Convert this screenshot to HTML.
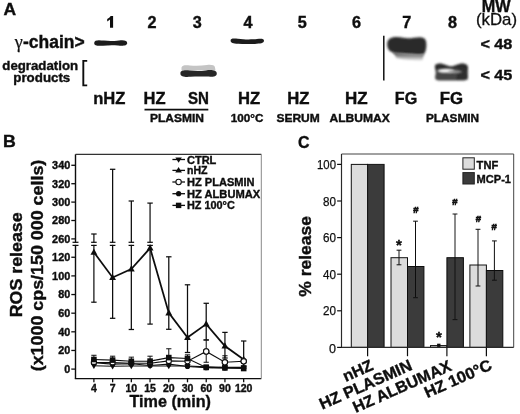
<!DOCTYPE html>
<html><head><meta charset="utf-8"><title>Figure</title>
<style>
html,body{margin:0;padding:0;background:#fff;}
body{width:520px;height:414px;overflow:hidden;font-family:"Liberation Sans",sans-serif;}
svg{display:block;}
</style></head><body>
<svg width="520" height="414" viewBox="0 0 520 414">
<defs>
<filter id="b1" x="-20%" y="-50%" width="140%" height="200%"><feGaussianBlur stdDeviation="0.7"/></filter>
<filter id="b2" x="-20%" y="-50%" width="140%" height="200%"><feGaussianBlur stdDeviation="1.1"/></filter>
<linearGradient id="smear" x1="0" y1="0" x2="0" y2="1"><stop offset="0" stop-color="#3a3a3a"/><stop offset="0.45" stop-color="#8a8a8a"/><stop offset="1" stop-color="#e6e6e6"/></linearGradient>
<filter id="soft"><feGaussianBlur stdDeviation="0.3"/></filter>
</defs>
<rect width="520" height="414" fill="#fff"/>
<g filter="url(#soft)">
<g id="A">
<text x="3.5" y="15.1" font-family="Liberation Sans, sans-serif" font-size="17.0" font-weight="bold" text-anchor="start" fill="#111" stroke="#111" stroke-width="0.4" textLength="12.6" lengthAdjust="spacingAndGlyphs" >A</text>
<text x="14.8" y="48.1" font-family="Liberation Serif, serif" font-size="18" fill="#111" stroke="#111" stroke-width="0.25">γ</text>
<text x="23.0" y="48.1" font-family="Liberation Sans, sans-serif" font-size="17.5" font-weight="bold" text-anchor="start" fill="#111" stroke="#111" stroke-width="0.4" textLength="61.6" lengthAdjust="spacingAndGlyphs" >-chain&gt;</text>
<text x="2.3" y="70.4" font-family="Liberation Sans, sans-serif" font-size="13" font-weight="bold" text-anchor="start" fill="#111" stroke="#111" stroke-width="0.4" textLength="75.8" lengthAdjust="spacingAndGlyphs" >degradation</text>
<text x="13.3" y="81.9" font-family="Liberation Sans, sans-serif" font-size="13" font-weight="bold" text-anchor="start" fill="#111" stroke="#111" stroke-width="0.4" textLength="57" lengthAdjust="spacingAndGlyphs" >products</text>
<path d="M87.2 60.9 H83.3 V85.4 H87.2" fill="none" stroke="#111" stroke-width="1.9"/>
<path d="M110.0 27.7 V19.6 Q108.8 20.8 107.2 21.4 V19.0 Q109.5 18.0 110.7 16.1 H113.1 V27.7 Z" fill="#111"/>
<text x="152" y="27.7" font-family="Liberation Sans, sans-serif" font-size="16.2" font-weight="bold" text-anchor="middle" fill="#111" stroke="#111" stroke-width="0.4" >2</text>
<text x="197.3" y="27.7" font-family="Liberation Sans, sans-serif" font-size="16.2" font-weight="bold" text-anchor="middle" fill="#111" stroke="#111" stroke-width="0.4" >3</text>
<text x="248" y="27.7" font-family="Liberation Sans, sans-serif" font-size="16.2" font-weight="bold" text-anchor="middle" fill="#111" stroke="#111" stroke-width="0.4" >4</text>
<text x="302.2" y="27.7" font-family="Liberation Sans, sans-serif" font-size="16.2" font-weight="bold" text-anchor="middle" fill="#111" stroke="#111" stroke-width="0.4" >5</text>
<text x="356.6" y="27.7" font-family="Liberation Sans, sans-serif" font-size="16.2" font-weight="bold" text-anchor="middle" fill="#111" stroke="#111" stroke-width="0.4" >6</text>
<text x="406.8" y="27.7" font-family="Liberation Sans, sans-serif" font-size="16.2" font-weight="bold" text-anchor="middle" fill="#111" stroke="#111" stroke-width="0.4" >7</text>
<text x="452.6" y="27.7" font-family="Liberation Sans, sans-serif" font-size="16.2" font-weight="bold" text-anchor="middle" fill="#111" stroke="#111" stroke-width="0.4" >8</text>
<text x="481.7" y="11.6" font-family="Liberation Sans, sans-serif" font-size="17" font-weight="bold" text-anchor="start" fill="#111" stroke="#111" stroke-width="0.4" textLength="28.8" lengthAdjust="spacingAndGlyphs" >MW</text>
<text x="476" y="24.9" font-family="Liberation Sans, sans-serif" font-size="16.3" fill="#111" stroke="#111" stroke-width="0.3" textLength="41" lengthAdjust="spacingAndGlyphs">(kDa)</text>
<text x="480.4" y="48.6" font-family="Liberation Sans, sans-serif" font-size="15.5" font-weight="bold" text-anchor="start" fill="#111" stroke="#111" stroke-width="0.4" textLength="32" lengthAdjust="spacingAndGlyphs" >&lt; 48</text>
<text x="480.4" y="79.7" font-family="Liberation Sans, sans-serif" font-size="15.5" font-weight="bold" text-anchor="start" fill="#111" stroke="#111" stroke-width="0.4" textLength="32" lengthAdjust="spacingAndGlyphs" >&lt; 45</text>
<line x1="383.8" y1="35.8" x2="383.8" y2="80.5" stroke="#111" stroke-width="1.5" />
<text x="93.2" y="103.6" font-family="Liberation Sans, sans-serif" font-size="16.5" font-weight="bold" text-anchor="start" fill="#111" stroke="#111" stroke-width="0.4" textLength="32.2" lengthAdjust="spacingAndGlyphs" >nHZ</text>
<text x="143.5" y="103.6" font-family="Liberation Sans, sans-serif" font-size="16.5" font-weight="bold" text-anchor="start" fill="#111" stroke="#111" stroke-width="0.4" textLength="22" lengthAdjust="spacingAndGlyphs" >HZ</text>
<text x="188" y="103.6" font-family="Liberation Sans, sans-serif" font-size="16.5" font-weight="bold" text-anchor="start" fill="#111" stroke="#111" stroke-width="0.4" textLength="21" lengthAdjust="spacingAndGlyphs" >SN</text>
<line x1="144.5" y1="109.6" x2="208.3" y2="109.6" stroke="#111" stroke-width="1.6" />
<text x="150" y="121.7" font-family="Liberation Sans, sans-serif" font-size="11" font-weight="bold" text-anchor="start" fill="#111" stroke="#111" stroke-width="0.4" textLength="54" lengthAdjust="spacingAndGlyphs" >PLASMIN</text>
<text x="237.9" y="103.6" font-family="Liberation Sans, sans-serif" font-size="16.5" font-weight="bold" text-anchor="start" fill="#111" stroke="#111" stroke-width="0.4" textLength="22.2" lengthAdjust="spacingAndGlyphs" >HZ</text>
<text x="230.8" y="121.7" font-family="Liberation Sans, sans-serif" font-size="11" font-weight="bold" text-anchor="start" fill="#111" stroke="#111" stroke-width="0.4" textLength="32.6" lengthAdjust="spacingAndGlyphs" >100°C</text>
<text x="287.3" y="103.6" font-family="Liberation Sans, sans-serif" font-size="16.5" font-weight="bold" text-anchor="start" fill="#111" stroke="#111" stroke-width="0.4" textLength="22.2" lengthAdjust="spacingAndGlyphs" >HZ</text>
<text x="276.4" y="121.7" font-family="Liberation Sans, sans-serif" font-size="11" font-weight="bold" text-anchor="start" fill="#111" stroke="#111" stroke-width="0.4" textLength="43.4" lengthAdjust="spacingAndGlyphs" >SERUM</text>
<text x="345.1" y="103.6" font-family="Liberation Sans, sans-serif" font-size="16.5" font-weight="bold" text-anchor="start" fill="#111" stroke="#111" stroke-width="0.4" textLength="22.6" lengthAdjust="spacingAndGlyphs" >HZ</text>
<text x="329.5" y="121.8" font-family="Liberation Sans, sans-serif" font-size="11" font-weight="bold" text-anchor="start" fill="#111" stroke="#111" stroke-width="0.4" textLength="60.2" lengthAdjust="spacingAndGlyphs" >ALBUMAX</text>
<text x="394.8" y="103.6" font-family="Liberation Sans, sans-serif" font-size="16.5" font-weight="bold" text-anchor="start" fill="#111" stroke="#111" stroke-width="0.4" textLength="22.4" lengthAdjust="spacingAndGlyphs" >FG</text>
<text x="439.7" y="103.6" font-family="Liberation Sans, sans-serif" font-size="16.5" font-weight="bold" text-anchor="start" fill="#111" stroke="#111" stroke-width="0.4" textLength="23.3" lengthAdjust="spacingAndGlyphs" >FG</text>
<text x="426" y="121.7" font-family="Liberation Sans, sans-serif" font-size="11" font-weight="bold" text-anchor="start" fill="#111" stroke="#111" stroke-width="0.4" textLength="53" lengthAdjust="spacingAndGlyphs" >PLASMIN</text>
<g filter="url(#b1)">
<path d="M94.2 42.9 C94.2 39.6 99 39.9 104 40.6 C110 41.4 114 41 119 40.4 C124 39.8 127.2 40.4 127.2 43 C127.2 45.8 123 46 118 45.5 C112 45 108 45.3 103 45.7 C98 46 94.2 46 94.2 42.9 Z" fill="#1e1e1e"/>
<path d="M230.6 40.4 C230.6 38 234 38.2 238 38.8 C244 39.7 252 39.6 257 39.1 C261 38.7 264 38.6 264 40.8 C264 43.3 260 43.6 255 43.9 C249 44.2 243 44.2 238 43.8 C233 43.4 230.6 43 230.6 40.4 Z" fill="#1e1e1e"/>
<path d="M181.5 67.5 C182 64.8 186 65 190 65.4 C196 66 202 65.6 207 65 C211 64.6 214.6 65 215 67.4 L215.5 70.5 L181.5 70.5 Z" fill="#c4c4c4"/>
<path d="M180.4 73.4 C180.4 70 185 70 190 70.6 C196 71.3 201 71.2 206 70.4 C211 69.7 216.8 70 216.8 73.4 C216.8 76.8 212 77 207 76.6 C201 76.2 196 76.4 190 76.8 C185 77.1 180.4 76.8 180.4 73.4 Z" fill="#262626"/>
</g>
<g filter="url(#b2)">
<path d="M387.2 44.5 C387 39 391 36.9 397 37.1 C402 37.3 405 38.3 408 38.3 C412 38.3 415 37.2 420 37.2 C425 37.2 426.6 40 426.4 45 C426.2 50 425.4 53 423.4 54.6 C419 55.4 414 54.6 409 54.2 C404 53.8 399 54 395 53.2 C390 52 387.4 50 387.2 44.5 Z" fill="#2a2a2a"/>
</g>
<path d="M393 52 C402 53.6 412 54 424 54 L422.4 60.4 C416 60.8 404 60 396.5 58 Z" fill="url(#smear)" filter="url(#b2)"/>
<g filter="url(#b2)">
<path d="M434.8 67 C434.6 64 438 63.2 441 63.6 C445 64.2 448 66.6 451 66.6 C454 66.6 457 64 461 63.6 C465 63.4 468 64.6 468 68 C468 70.5 466.8 71.6 467.4 74 C468.2 77 468 80.4 464 80.4 L439 80.6 C434.8 80.6 434.6 77.6 435.6 74.6 C436.4 72 435 70 434.8 67 Z" fill="#454545"/>
<path d="M435 66.5 C435 64 438 63.4 441 63.8 C445 64.4 448 66.8 451 66.8 C454 66.8 457 64.2 461 63.8 C465 63.6 467.8 64.6 467.8 67.4 L467.6 69 C460 67.6 444 68 435.4 69.6 Z" fill="#2a2a2a"/>
<path d="M458 69 L467.8 68 C467.4 72 468.2 76 467.6 79.6 L456 80 Z" fill="#2e2e2e"/>
</g>
<ellipse cx="446" cy="70.8" rx="8.5" ry="2.0" fill="#f4f4f4" filter="url(#b2)"/>
<ellipse cx="455" cy="71.8" rx="7" ry="1.4" fill="#999" filter="url(#b2)"/>
</g>
<g id="B">
<text x="3" y="147.3" font-family="Liberation Sans, sans-serif" font-size="16.3" font-weight="bold" text-anchor="start" fill="#111" stroke="#111" stroke-width="0.4" textLength="12.8" lengthAdjust="spacingAndGlyphs" >B</text>
<line x1="75.5" y1="154.3" x2="75.5" y2="378.6" stroke="#111" stroke-width="1.4" />
<line x1="74.8" y1="378.6" x2="261.3" y2="378.6" stroke="#111" stroke-width="1.4" />
<line x1="75.5" y1="154.3" x2="261.3" y2="154.3" stroke="#333" stroke-width="1.2" />
<line x1="261.3" y1="154.3" x2="261.3" y2="378.6" stroke="#7a7a7a" stroke-width="0.9" />
<line x1="71.3" y1="165.3" x2="75.5" y2="165.3" stroke="#111" stroke-width="1.3" />
<text x="70.3" y="169.1" font-family="Liberation Sans, sans-serif" font-size="10.8" font-weight="bold" text-anchor="end" fill="#111" stroke="#111" stroke-width="0.4" textLength="18.2" lengthAdjust="spacingAndGlyphs" >340</text>
<line x1="71.3" y1="183.7" x2="75.5" y2="183.7" stroke="#111" stroke-width="1.3" />
<text x="70.3" y="187.49999999999997" font-family="Liberation Sans, sans-serif" font-size="10.8" font-weight="bold" text-anchor="end" fill="#111" stroke="#111" stroke-width="0.4" textLength="18.2" lengthAdjust="spacingAndGlyphs" >320</text>
<line x1="71.3" y1="202.1" x2="75.5" y2="202.1" stroke="#111" stroke-width="1.3" />
<text x="70.3" y="205.89999999999998" font-family="Liberation Sans, sans-serif" font-size="10.8" font-weight="bold" text-anchor="end" fill="#111" stroke="#111" stroke-width="0.4" textLength="18.2" lengthAdjust="spacingAndGlyphs" >300</text>
<line x1="71.3" y1="220.5" x2="75.5" y2="220.5" stroke="#111" stroke-width="1.3" />
<text x="70.3" y="224.29999999999998" font-family="Liberation Sans, sans-serif" font-size="10.8" font-weight="bold" text-anchor="end" fill="#111" stroke="#111" stroke-width="0.4" textLength="18.2" lengthAdjust="spacingAndGlyphs" >280</text>
<line x1="71.3" y1="238.9" x2="75.5" y2="238.9" stroke="#111" stroke-width="1.3" />
<text x="70.3" y="242.7" font-family="Liberation Sans, sans-serif" font-size="10.8" font-weight="bold" text-anchor="end" fill="#111" stroke="#111" stroke-width="0.4" textLength="18.2" lengthAdjust="spacingAndGlyphs" >260</text>
<line x1="71.3" y1="257.26000000000005" x2="75.5" y2="257.26000000000005" stroke="#111" stroke-width="1.3" />
<text x="70.3" y="261.06000000000006" font-family="Liberation Sans, sans-serif" font-size="10.8" font-weight="bold" text-anchor="end" fill="#111" stroke="#111" stroke-width="0.4" textLength="18.2" lengthAdjust="spacingAndGlyphs" >120</text>
<line x1="71.3" y1="275.90000000000003" x2="75.5" y2="275.90000000000003" stroke="#111" stroke-width="1.3" />
<text x="70.3" y="279.70000000000005" font-family="Liberation Sans, sans-serif" font-size="10.8" font-weight="bold" text-anchor="end" fill="#111" stroke="#111" stroke-width="0.4" textLength="18.2" lengthAdjust="spacingAndGlyphs" >100</text>
<line x1="71.3" y1="294.54" x2="75.5" y2="294.54" stroke="#111" stroke-width="1.3" />
<text x="70.3" y="298.34000000000003" font-family="Liberation Sans, sans-serif" font-size="10.8" font-weight="bold" text-anchor="end" fill="#111" stroke="#111" stroke-width="0.4" textLength="12" lengthAdjust="spacingAndGlyphs" >80</text>
<line x1="71.3" y1="313.18" x2="75.5" y2="313.18" stroke="#111" stroke-width="1.3" />
<text x="70.3" y="316.98" font-family="Liberation Sans, sans-serif" font-size="10.8" font-weight="bold" text-anchor="end" fill="#111" stroke="#111" stroke-width="0.4" textLength="12" lengthAdjust="spacingAndGlyphs" >60</text>
<line x1="71.3" y1="331.82" x2="75.5" y2="331.82" stroke="#111" stroke-width="1.3" />
<text x="70.3" y="335.62" font-family="Liberation Sans, sans-serif" font-size="10.8" font-weight="bold" text-anchor="end" fill="#111" stroke="#111" stroke-width="0.4" textLength="12" lengthAdjust="spacingAndGlyphs" >40</text>
<line x1="71.3" y1="350.46000000000004" x2="75.5" y2="350.46000000000004" stroke="#111" stroke-width="1.3" />
<text x="70.3" y="354.26000000000005" font-family="Liberation Sans, sans-serif" font-size="10.8" font-weight="bold" text-anchor="end" fill="#111" stroke="#111" stroke-width="0.4" textLength="12" lengthAdjust="spacingAndGlyphs" >20</text>
<line x1="71.3" y1="369.1" x2="75.5" y2="369.1" stroke="#111" stroke-width="1.3" />
<text x="70.3" y="372.90000000000003" font-family="Liberation Sans, sans-serif" font-size="10.8" font-weight="bold" text-anchor="end" fill="#111" stroke="#111" stroke-width="0.4" textLength="6" lengthAdjust="spacingAndGlyphs" >0</text>
<rect x="74.0" y="242.9" width="3" height="1.9" fill="#fff"/>
<line x1="72.5" y1="242.3" x2="78.5" y2="242.3" stroke="#111" stroke-width="1.2" />
<line x1="72.5" y1="245.4" x2="78.5" y2="245.4" stroke="#111" stroke-width="1.2" />
<line x1="93.9" y1="378.6" x2="93.9" y2="382.3" stroke="#111" stroke-width="1.3" />
<text x="93.9" y="392.3" font-family="Liberation Sans, sans-serif" font-size="10.5" font-weight="bold" text-anchor="middle" fill="#111" stroke="#111" stroke-width="0.4" >4</text>
<line x1="112.62" y1="378.6" x2="112.62" y2="382.3" stroke="#111" stroke-width="1.3" />
<text x="112.62" y="392.3" font-family="Liberation Sans, sans-serif" font-size="10.5" font-weight="bold" text-anchor="middle" fill="#111" stroke="#111" stroke-width="0.4" >7</text>
<line x1="131.34" y1="378.6" x2="131.34" y2="382.3" stroke="#111" stroke-width="1.3" />
<text x="131.34" y="392.3" font-family="Liberation Sans, sans-serif" font-size="10.5" font-weight="bold" text-anchor="middle" fill="#111" stroke="#111" stroke-width="0.4" >10</text>
<line x1="150.06" y1="378.6" x2="150.06" y2="382.3" stroke="#111" stroke-width="1.3" />
<text x="150.06" y="392.3" font-family="Liberation Sans, sans-serif" font-size="10.5" font-weight="bold" text-anchor="middle" fill="#111" stroke="#111" stroke-width="0.4" >15</text>
<line x1="168.78" y1="378.6" x2="168.78" y2="382.3" stroke="#111" stroke-width="1.3" />
<text x="168.78" y="392.3" font-family="Liberation Sans, sans-serif" font-size="10.5" font-weight="bold" text-anchor="middle" fill="#111" stroke="#111" stroke-width="0.4" >20</text>
<line x1="187.5" y1="378.6" x2="187.5" y2="382.3" stroke="#111" stroke-width="1.3" />
<text x="187.5" y="392.3" font-family="Liberation Sans, sans-serif" font-size="10.5" font-weight="bold" text-anchor="middle" fill="#111" stroke="#111" stroke-width="0.4" >30</text>
<line x1="206.22" y1="378.6" x2="206.22" y2="382.3" stroke="#111" stroke-width="1.3" />
<text x="206.22" y="392.3" font-family="Liberation Sans, sans-serif" font-size="10.5" font-weight="bold" text-anchor="middle" fill="#111" stroke="#111" stroke-width="0.4" >60</text>
<line x1="224.94" y1="378.6" x2="224.94" y2="382.3" stroke="#111" stroke-width="1.3" />
<text x="224.94" y="392.3" font-family="Liberation Sans, sans-serif" font-size="10.5" font-weight="bold" text-anchor="middle" fill="#111" stroke="#111" stroke-width="0.4" >90</text>
<line x1="243.66" y1="378.6" x2="243.66" y2="382.3" stroke="#111" stroke-width="1.3" />
<text x="243.66" y="392.3" font-family="Liberation Sans, sans-serif" font-size="10.5" font-weight="bold" text-anchor="middle" fill="#111" stroke="#111" stroke-width="0.4" >120</text>
<text x="170.2" y="407.2" font-family="Liberation Sans, sans-serif" font-size="17.3" font-weight="bold" text-anchor="middle" fill="#111" stroke="#111" stroke-width="0.4" textLength="81.5" lengthAdjust="spacingAndGlyphs" >Time (min)</text>
<text transform="translate(21.8,264.8) rotate(-90)" font-family="Liberation Sans, sans-serif" font-size="17" font-weight="bold" text-anchor="middle" fill="#111" stroke="#111" stroke-width="0.4" textLength="105" lengthAdjust="spacingAndGlyphs">ROS release</text>
<text transform="translate(42.7,265.5) rotate(-90)" font-family="Liberation Sans, sans-serif" font-size="17" font-weight="bold" text-anchor="middle" fill="#111" stroke="#111" stroke-width="0.4" textLength="211.6" lengthAdjust="spacingAndGlyphs">(x1000 cps/150 000 cells)</text>
<line x1="93.9" y1="234" x2="93.9" y2="302.2" stroke="#111" stroke-width="1.25" />
<line x1="91.2" y1="234" x2="96.60000000000001" y2="234" stroke="#111" stroke-width="1.25" />
<line x1="91.2" y1="302.2" x2="96.60000000000001" y2="302.2" stroke="#111" stroke-width="1.25" />
<line x1="112.62" y1="169.3" x2="112.62" y2="318.3" stroke="#111" stroke-width="1.25" />
<line x1="109.92" y1="169.3" x2="115.32000000000001" y2="169.3" stroke="#111" stroke-width="1.25" />
<line x1="109.92" y1="318.3" x2="115.32000000000001" y2="318.3" stroke="#111" stroke-width="1.25" />
<line x1="131.34" y1="201" x2="131.34" y2="329.5" stroke="#111" stroke-width="1.25" />
<line x1="128.64000000000001" y1="201" x2="134.04" y2="201" stroke="#111" stroke-width="1.25" />
<line x1="128.64000000000001" y1="329.5" x2="134.04" y2="329.5" stroke="#111" stroke-width="1.25" />
<line x1="150.06" y1="203.1" x2="150.06" y2="324.1" stroke="#111" stroke-width="1.25" />
<line x1="147.36" y1="203.1" x2="152.76" y2="203.1" stroke="#111" stroke-width="1.25" />
<line x1="147.36" y1="324.1" x2="152.76" y2="324.1" stroke="#111" stroke-width="1.25" />
<line x1="168.78" y1="256.8" x2="168.78" y2="329.3" stroke="#111" stroke-width="1.25" />
<line x1="166.08" y1="256.8" x2="171.48" y2="256.8" stroke="#111" stroke-width="1.25" />
<line x1="166.08" y1="329.3" x2="171.48" y2="329.3" stroke="#111" stroke-width="1.25" />
<line x1="187.5" y1="284.8" x2="187.5" y2="352.5" stroke="#111" stroke-width="1.25" />
<line x1="184.8" y1="284.8" x2="190.2" y2="284.8" stroke="#111" stroke-width="1.25" />
<line x1="184.8" y1="352.5" x2="190.2" y2="352.5" stroke="#111" stroke-width="1.25" />
<line x1="206.22" y1="303.3" x2="206.22" y2="340" stroke="#111" stroke-width="1.25" />
<line x1="203.52" y1="303.3" x2="208.92" y2="303.3" stroke="#111" stroke-width="1.25" />
<line x1="203.52" y1="340" x2="208.92" y2="340" stroke="#111" stroke-width="1.25" />
<line x1="224.94" y1="332.4" x2="224.94" y2="358" stroke="#111" stroke-width="1.25" />
<line x1="222.24" y1="332.4" x2="227.64" y2="332.4" stroke="#111" stroke-width="1.25" />
<line x1="222.24" y1="358" x2="227.64" y2="358" stroke="#111" stroke-width="1.25" />
<line x1="243.66" y1="341" x2="243.66" y2="366" stroke="#111" stroke-width="1.25" />
<line x1="240.96" y1="341" x2="246.35999999999999" y2="341" stroke="#111" stroke-width="1.25" />
<line x1="240.96" y1="366" x2="246.35999999999999" y2="366" stroke="#111" stroke-width="1.25" />
<rect x="92.4" y="242.9" width="3" height="1.9" fill="#fff"/>
<line x1="91.10000000000001" y1="242.3" x2="96.7" y2="242.3" stroke="#111" stroke-width="1.2" />
<line x1="91.10000000000001" y1="245.4" x2="96.7" y2="245.4" stroke="#111" stroke-width="1.2" />
<rect x="111.12" y="242.9" width="3" height="1.9" fill="#fff"/>
<line x1="109.82000000000001" y1="242.3" x2="115.42" y2="242.3" stroke="#111" stroke-width="1.2" />
<line x1="109.82000000000001" y1="245.4" x2="115.42" y2="245.4" stroke="#111" stroke-width="1.2" />
<rect x="129.84" y="242.9" width="3" height="1.9" fill="#fff"/>
<line x1="128.54" y1="242.3" x2="134.14000000000001" y2="242.3" stroke="#111" stroke-width="1.2" />
<line x1="128.54" y1="245.4" x2="134.14000000000001" y2="245.4" stroke="#111" stroke-width="1.2" />
<rect x="148.56" y="242.9" width="3" height="1.9" fill="#fff"/>
<line x1="147.26" y1="242.3" x2="152.86" y2="242.3" stroke="#111" stroke-width="1.2" />
<line x1="147.26" y1="245.4" x2="152.86" y2="245.4" stroke="#111" stroke-width="1.2" />
<polyline points="93.9,252.3 112.6,277.5 131.3,269.1 150.1,248.1 168.8,312.9 187.5,337.6 206.2,324.1 224.9,346.0 243.7,359.5" fill="none" stroke="#111" stroke-width="1.8"/>
<path d="M90.5 254.8 L97.3 254.8 L93.9 248.5 Z" fill="#111"/>
<path d="M109.2 280.0 L116.0 280.0 L112.6 273.7 Z" fill="#111"/>
<path d="M127.9 271.6 L134.7 271.6 L131.3 265.3 Z" fill="#111"/>
<path d="M146.7 250.6 L153.5 250.6 L150.1 244.3 Z" fill="#111"/>
<path d="M165.4 315.4 L172.2 315.4 L168.8 309.1 Z" fill="#111"/>
<path d="M184.1 340.1 L190.9 340.1 L187.5 333.8 Z" fill="#111"/>
<path d="M202.8 326.6 L209.6 326.6 L206.2 320.3 Z" fill="#111"/>
<path d="M221.5 348.5 L228.3 348.5 L224.9 342.2 Z" fill="#111"/>
<path d="M240.3 362.0 L247.1 362.0 L243.7 355.7 Z" fill="#111"/>
<line x1="93.9" y1="355.286" x2="93.9" y2="359.48" stroke="#111" stroke-width="1" />
<line x1="91.30000000000001" y1="355.286" x2="96.5" y2="355.286" stroke="#111" stroke-width="1" />
<line x1="91.30000000000001" y1="359.48" x2="96.5" y2="359.48" stroke="#111" stroke-width="1" />
<line x1="112.62" y1="356.218" x2="112.62" y2="360.1324" stroke="#111" stroke-width="1" />
<line x1="110.02000000000001" y1="356.218" x2="115.22" y2="356.218" stroke="#111" stroke-width="1" />
<line x1="110.02000000000001" y1="360.1324" x2="115.22" y2="360.1324" stroke="#111" stroke-width="1" />
<line x1="131.34" y1="357.15000000000003" x2="131.34" y2="361.344" stroke="#111" stroke-width="1" />
<line x1="128.74" y1="357.15000000000003" x2="133.94" y2="357.15000000000003" stroke="#111" stroke-width="1" />
<line x1="128.74" y1="361.344" x2="133.94" y2="361.344" stroke="#111" stroke-width="1" />
<line x1="150.06" y1="356.218" x2="150.06" y2="361.06440000000003" stroke="#111" stroke-width="1" />
<line x1="147.46" y1="356.218" x2="152.66" y2="356.218" stroke="#111" stroke-width="1" />
<line x1="147.46" y1="361.06440000000003" x2="152.66" y2="361.06440000000003" stroke="#111" stroke-width="1" />
<line x1="168.78" y1="348.762" x2="168.78" y2="357.616" stroke="#111" stroke-width="1" />
<line x1="166.18" y1="348.762" x2="171.38" y2="348.762" stroke="#111" stroke-width="1" />
<line x1="166.18" y1="357.616" x2="171.38" y2="357.616" stroke="#111" stroke-width="1" />
<line x1="187.5" y1="354.82" x2="187.5" y2="358.548" stroke="#111" stroke-width="1" />
<line x1="184.9" y1="354.82" x2="190.1" y2="354.82" stroke="#111" stroke-width="1" />
<line x1="184.9" y1="358.548" x2="190.1" y2="358.548" stroke="#111" stroke-width="1" />
<line x1="206.22" y1="365.072" x2="206.22" y2="367.402" stroke="#111" stroke-width="1" />
<line x1="203.62" y1="365.072" x2="208.82" y2="365.072" stroke="#111" stroke-width="1" />
<line x1="203.62" y1="367.402" x2="208.82" y2="367.402" stroke="#111" stroke-width="1" />
<line x1="224.94" y1="366.004" x2="224.94" y2="367.868" stroke="#111" stroke-width="1" />
<line x1="222.34" y1="366.004" x2="227.54" y2="366.004" stroke="#111" stroke-width="1" />
<line x1="222.34" y1="367.868" x2="227.54" y2="367.868" stroke="#111" stroke-width="1" />
<line x1="243.66" y1="366.93600000000004" x2="243.66" y2="368.5204" stroke="#111" stroke-width="1" />
<line x1="241.06" y1="366.93600000000004" x2="246.26" y2="366.93600000000004" stroke="#111" stroke-width="1" />
<line x1="241.06" y1="368.5204" x2="246.26" y2="368.5204" stroke="#111" stroke-width="1" />
<line x1="206.22" y1="339.908" x2="206.22" y2="362.276" stroke="#111" stroke-width="1" />
<line x1="203.62" y1="339.908" x2="208.82" y2="339.908" stroke="#111" stroke-width="1" />
<line x1="203.62" y1="362.276" x2="208.82" y2="362.276" stroke="#111" stroke-width="1" />
<line x1="224.94" y1="355.752" x2="224.94" y2="362.276" stroke="#111" stroke-width="1" />
<line x1="222.34" y1="355.752" x2="227.54" y2="355.752" stroke="#111" stroke-width="1" />
<line x1="222.34" y1="362.276" x2="227.54" y2="362.276" stroke="#111" stroke-width="1" />
<polyline points="93.9,359.5 112.6,360.1 131.3,361.3 150.1,361.1 168.8,357.6 187.5,358.5 206.2,367.4 224.9,367.9 243.7,368.5" fill="none" stroke="#111" stroke-width="1.1"/>
<polyline points="93.9,362.5 112.6,362.6 131.3,363.2 150.1,363.2 168.8,360.9 187.5,361.3 206.2,351.5 224.9,362.3 243.7,361.3" fill="none" stroke="#111" stroke-width="1.1"/>
<polyline points="93.9,362.7 112.6,364.1 131.3,363.7 150.1,365.5 168.8,364.1 187.5,366.5 206.2,367.7 224.9,367.9 243.7,367.9" fill="none" stroke="#111" stroke-width="1.1"/>
<polyline points="93.9,365.8 112.6,366.2 131.3,366.0 150.1,366.0 168.8,366.0 187.5,366.0 206.2,366.9 224.9,367.4 243.7,367.4" fill="none" stroke="#111" stroke-width="1.1"/>
<circle cx="93.9" cy="362.7" r="2.6" fill="#111"/>
<circle cx="112.6" cy="364.1" r="2.6" fill="#111"/>
<circle cx="131.3" cy="363.7" r="2.6" fill="#111"/>
<circle cx="150.1" cy="365.5" r="2.6" fill="#111"/>
<circle cx="168.8" cy="364.1" r="2.6" fill="#111"/>
<circle cx="187.5" cy="366.5" r="2.6" fill="#111"/>
<circle cx="206.2" cy="367.7" r="2.6" fill="#111"/>
<circle cx="224.9" cy="367.9" r="2.6" fill="#111"/>
<circle cx="243.7" cy="367.9" r="2.6" fill="#111"/>
<circle cx="93.9" cy="362.5" r="2.6" fill="#fff" stroke="#111" stroke-width="1.1"/>
<circle cx="112.6" cy="362.6" r="2.6" fill="#fff" stroke="#111" stroke-width="1.1"/>
<circle cx="131.3" cy="363.2" r="2.6" fill="#fff" stroke="#111" stroke-width="1.1"/>
<circle cx="150.1" cy="363.2" r="2.6" fill="#fff" stroke="#111" stroke-width="1.1"/>
<circle cx="168.8" cy="360.9" r="2.6" fill="#fff" stroke="#111" stroke-width="1.1"/>
<circle cx="187.5" cy="361.3" r="2.6" fill="#fff" stroke="#111" stroke-width="1.1"/>
<circle cx="206.2" cy="351.5" r="2.6" fill="#fff" stroke="#111" stroke-width="1.1"/>
<circle cx="224.9" cy="362.3" r="2.6" fill="#fff" stroke="#111" stroke-width="1.1"/>
<circle cx="243.7" cy="361.3" r="2.6" fill="#fff" stroke="#111" stroke-width="1.1"/>
<path d="M90.8 363.8 L97.0 363.8 L93.9 369.0 Z" fill="#111"/>
<path d="M109.5 364.2 L115.7 364.2 L112.6 369.4 Z" fill="#111"/>
<path d="M128.2 364.0 L134.4 364.0 L131.3 369.2 Z" fill="#111"/>
<path d="M147.0 364.0 L153.2 364.0 L150.1 369.2 Z" fill="#111"/>
<path d="M165.7 364.0 L171.9 364.0 L168.8 369.2 Z" fill="#111"/>
<path d="M184.4 364.0 L190.6 364.0 L187.5 369.2 Z" fill="#111"/>
<path d="M203.1 364.9 L209.3 364.9 L206.2 370.1 Z" fill="#111"/>
<path d="M221.8 365.4 L228.0 365.4 L224.9 370.6 Z" fill="#111"/>
<path d="M240.6 365.4 L246.8 365.4 L243.7 370.6 Z" fill="#111"/>
<rect x="91.1" y="356.7" width="5.6" height="5.6" fill="#111"/>
<rect x="109.8" y="357.3" width="5.6" height="5.6" fill="#111"/>
<rect x="128.5" y="358.5" width="5.6" height="5.6" fill="#111"/>
<rect x="147.3" y="358.3" width="5.6" height="5.6" fill="#111"/>
<rect x="166.0" y="354.8" width="5.6" height="5.6" fill="#111"/>
<rect x="184.7" y="355.7" width="5.6" height="5.6" fill="#111"/>
<rect x="203.4" y="364.6" width="5.6" height="5.6" fill="#111"/>
<rect x="222.1" y="365.1" width="5.6" height="5.6" fill="#111"/>
<rect x="240.9" y="365.7" width="5.6" height="5.6" fill="#111"/>
<circle cx="206.2" cy="351.5" r="2.7" fill="#fff" stroke="#111" stroke-width="1.1"/>
<circle cx="224.9" cy="362.3" r="2.7" fill="#fff" stroke="#111" stroke-width="1.1"/>
<circle cx="243.7" cy="361.3" r="2.7" fill="#fff" stroke="#111" stroke-width="1.1"/>
<line x1="172.4" y1="159.5" x2="185.0" y2="159.5" stroke="#111" stroke-width="1.3" />
<text x="187" y="163.5" font-family="Liberation Sans, sans-serif" font-size="11" font-weight="bold" text-anchor="start" fill="#111" stroke="#111" stroke-width="0.4" textLength="29.3" lengthAdjust="spacingAndGlyphs" >CTRL</text>
<line x1="172.4" y1="170.4" x2="185.0" y2="170.4" stroke="#111" stroke-width="1.3" />
<text x="187" y="174.4" font-family="Liberation Sans, sans-serif" font-size="11" font-weight="bold" text-anchor="start" fill="#111" stroke="#111" stroke-width="0.4" textLength="20.6" lengthAdjust="spacingAndGlyphs" >nHZ</text>
<line x1="172.4" y1="182.0" x2="185.0" y2="182.0" stroke="#111" stroke-width="1.3" />
<text x="187" y="186.0" font-family="Liberation Sans, sans-serif" font-size="11" font-weight="bold" text-anchor="start" fill="#111" stroke="#111" stroke-width="0.4" textLength="67.6" lengthAdjust="spacingAndGlyphs" >HZ PLASMIN</text>
<line x1="172.4" y1="193.7" x2="185.0" y2="193.7" stroke="#111" stroke-width="1.3" />
<text x="187" y="197.7" font-family="Liberation Sans, sans-serif" font-size="11" font-weight="bold" text-anchor="start" fill="#111" stroke="#111" stroke-width="0.4" textLength="73.2" lengthAdjust="spacingAndGlyphs" >HZ ALBUMAX</text>
<line x1="172.4" y1="205.4" x2="185.0" y2="205.4" stroke="#111" stroke-width="1.3" />
<text x="187" y="209.4" font-family="Liberation Sans, sans-serif" font-size="11" font-weight="bold" text-anchor="start" fill="#111" stroke="#111" stroke-width="0.4" textLength="47.8" lengthAdjust="spacingAndGlyphs" >HZ 100°C</text>
<path d="M175.4 157.5 L181.79999999999998 157.5 L178.6 162.7 Z" fill="#111"/>
<path d="M175.29999999999998 172.6 L181.9 172.6 L178.6 167.0 Z" fill="#111"/>
<circle cx="178.6" cy="182.0" r="2.7" fill="#fff" stroke="#111" stroke-width="1.1"/>
<circle cx="178.6" cy="193.7" r="2.6" fill="#111"/>
<rect x="175.9" y="202.70000000000002" width="5.4" height="5.4" fill="#111"/>
</g>
<g id="C">
<text x="297.9" y="147.8" font-family="Liberation Sans, sans-serif" font-size="16.6" font-weight="bold" text-anchor="start" fill="#111" stroke="#111" stroke-width="0.4" textLength="11.5" lengthAdjust="spacingAndGlyphs" >C</text>
<line x1="341.5" y1="154.0" x2="513.7" y2="154.0" stroke="#444" stroke-width="1" />
<line x1="513.7" y1="154.0" x2="513.7" y2="347.4" stroke="#444" stroke-width="1" />
<rect x="351.3" y="164.4" width="16.3" height="183.0" fill="#dcdcdc" stroke="#111" stroke-width="1"/>
<rect x="367.6" y="164.4" width="16.5" height="183.0" fill="#3a3a3a" stroke="#111" stroke-width="1"/>
<rect x="391" y="257.7" width="16.5" height="89.7" fill="#dcdcdc" stroke="#111" stroke-width="1"/>
<rect x="407.5" y="266.5" width="16.4" height="80.9" fill="#3a3a3a" stroke="#111" stroke-width="1"/>
<rect x="430.5" y="345.6" width="16.4" height="1.8" fill="#dcdcdc" stroke="#111" stroke-width="1"/>
<rect x="446.9" y="257.7" width="16.5" height="89.7" fill="#3a3a3a" stroke="#111" stroke-width="1"/>
<rect x="469.9" y="265.0" width="16.5" height="82.4" fill="#dcdcdc" stroke="#111" stroke-width="1"/>
<rect x="486.4" y="270.5" width="16.4" height="76.9" fill="#3a3a3a" stroke="#111" stroke-width="1"/>
<line x1="341.5" y1="154.0" x2="341.5" y2="347.4" stroke="#2a2a2a" stroke-width="1.15" />
<line x1="340.9" y1="347.4" x2="513.7" y2="347.4" stroke="#2a2a2a" stroke-width="1.15" />
<line x1="337.1" y1="347.4" x2="341.5" y2="347.4" stroke="#111" stroke-width="1.2" />
<text x="336.0" y="352.59999999999997" font-family="Liberation Sans, sans-serif" font-size="12.8" font-weight="normal" text-anchor="end" fill="#111" stroke="#111" stroke-width="0.25" textLength="7.0" lengthAdjust="spacingAndGlyphs" >0</text>
<line x1="337.1" y1="310.79999999999995" x2="341.5" y2="310.79999999999995" stroke="#111" stroke-width="1.2" />
<text x="336.0" y="315.29999999999995" font-family="Liberation Sans, sans-serif" font-size="12.8" font-weight="normal" text-anchor="end" fill="#111" stroke="#111" stroke-width="0.25" textLength="13.0" lengthAdjust="spacingAndGlyphs" >20</text>
<line x1="337.1" y1="274.2" x2="341.5" y2="274.2" stroke="#111" stroke-width="1.2" />
<text x="336.0" y="278.7" font-family="Liberation Sans, sans-serif" font-size="12.8" font-weight="normal" text-anchor="end" fill="#111" stroke="#111" stroke-width="0.25" textLength="13.0" lengthAdjust="spacingAndGlyphs" >40</text>
<line x1="337.1" y1="237.59999999999997" x2="341.5" y2="237.59999999999997" stroke="#111" stroke-width="1.2" />
<text x="336.0" y="242.09999999999997" font-family="Liberation Sans, sans-serif" font-size="12.8" font-weight="normal" text-anchor="end" fill="#111" stroke="#111" stroke-width="0.25" textLength="13.0" lengthAdjust="spacingAndGlyphs" >60</text>
<line x1="337.1" y1="200.99999999999997" x2="341.5" y2="200.99999999999997" stroke="#111" stroke-width="1.2" />
<text x="336.0" y="205.49999999999997" font-family="Liberation Sans, sans-serif" font-size="12.8" font-weight="normal" text-anchor="end" fill="#111" stroke="#111" stroke-width="0.25" textLength="13.0" lengthAdjust="spacingAndGlyphs" >80</text>
<line x1="337.1" y1="164.39999999999998" x2="341.5" y2="164.39999999999998" stroke="#111" stroke-width="1.2" />
<text x="336.0" y="168.89999999999998" font-family="Liberation Sans, sans-serif" font-size="12.8" font-weight="normal" text-anchor="end" fill="#111" stroke="#111" stroke-width="0.25" textLength="19.0" lengthAdjust="spacingAndGlyphs" >100</text>
<line x1="367.6" y1="347.4" x2="367.6" y2="356.2" stroke="#111" stroke-width="1.2" />
<line x1="407.5" y1="347.4" x2="407.5" y2="356.2" stroke="#111" stroke-width="1.2" />
<line x1="446.9" y1="347.4" x2="446.9" y2="356.2" stroke="#111" stroke-width="1.2" />
<line x1="486.4" y1="347.4" x2="486.4" y2="356.2" stroke="#111" stroke-width="1.2" />
<line x1="399" y1="250.2" x2="399" y2="264.8" stroke="#111" stroke-width="1" />
<line x1="396.6" y1="250.2" x2="401.4" y2="250.2" stroke="#111" stroke-width="1" />
<line x1="396.6" y1="264.8" x2="401.4" y2="264.8" stroke="#111" stroke-width="1" />
<line x1="415.5" y1="221.2" x2="415.5" y2="297.7" stroke="#111" stroke-width="1" />
<line x1="413.1" y1="221.2" x2="417.9" y2="221.2" stroke="#111" stroke-width="1" />
<line x1="413.1" y1="297.7" x2="417.9" y2="297.7" stroke="#111" stroke-width="1" />
<line x1="455" y1="214" x2="455" y2="319.6" stroke="#111" stroke-width="1" />
<line x1="452.6" y1="214" x2="457.4" y2="214" stroke="#111" stroke-width="1" />
<line x1="452.6" y1="319.6" x2="457.4" y2="319.6" stroke="#111" stroke-width="1" />
<line x1="478" y1="229.3" x2="478" y2="286" stroke="#111" stroke-width="1" />
<line x1="475.6" y1="229.3" x2="480.4" y2="229.3" stroke="#111" stroke-width="1" />
<line x1="475.6" y1="286" x2="480.4" y2="286" stroke="#111" stroke-width="1" />
<line x1="494.4" y1="240.9" x2="494.4" y2="280.2" stroke="#111" stroke-width="1" />
<line x1="492.0" y1="240.9" x2="496.79999999999995" y2="240.9" stroke="#111" stroke-width="1" />
<line x1="492.0" y1="280.2" x2="496.79999999999995" y2="280.2" stroke="#111" stroke-width="1" />
<rect x="437.1" y="343.7" width="3.4" height="3.2" fill="#111"/>
<text x="398.8" y="249.9" font-family="Liberation Sans, sans-serif" font-size="15" font-weight="bold" text-anchor="middle" fill="#111" stroke="#111" stroke-width="0.4" >*</text>
<text x="438.9" y="342.2" font-family="Liberation Sans, sans-serif" font-size="15" font-weight="bold" text-anchor="middle" fill="#111" stroke="#111" stroke-width="0.4" >*</text>
<text x="416" y="212.9" font-family="Liberation Sans, sans-serif" font-size="9.5" font-weight="bold" text-anchor="middle" fill="#111" stroke="#111" stroke-width="0.6" >#</text>
<text x="455" y="204.70000000000002" font-family="Liberation Sans, sans-serif" font-size="9.5" font-weight="bold" text-anchor="middle" fill="#111" stroke="#111" stroke-width="0.6" >#</text>
<text x="478.3" y="221.60000000000002" font-family="Liberation Sans, sans-serif" font-size="9.5" font-weight="bold" text-anchor="middle" fill="#111" stroke="#111" stroke-width="0.6" >#</text>
<text x="494.2" y="230.3" font-family="Liberation Sans, sans-serif" font-size="9.5" font-weight="bold" text-anchor="middle" fill="#111" stroke="#111" stroke-width="0.6" >#</text>
<rect x="462.9" y="157.8" width="11.4" height="11.4" fill="#dcdcdc" stroke="#222" stroke-width="1"/>
<rect x="462.9" y="172.6" width="11.4" height="11.4" fill="#3a3a3a" stroke="#222" stroke-width="1"/>
<text x="476.6" y="168.9" font-family="Liberation Sans, sans-serif" font-size="11" font-weight="bold" text-anchor="start" fill="#111" stroke="#111" stroke-width="0.4" textLength="21.6" lengthAdjust="spacingAndGlyphs" >TNF</text>
<text x="476.6" y="182.9" font-family="Liberation Sans, sans-serif" font-size="11" font-weight="bold" text-anchor="start" fill="#111" stroke="#111" stroke-width="0.4" textLength="34.4" lengthAdjust="spacingAndGlyphs" >MCP-1</text>
<text transform="translate(311.2,256.4) rotate(-90)" font-family="Liberation Sans, sans-serif" font-size="17.3" font-weight="bold" text-anchor="middle" fill="#111" stroke="#111" stroke-width="0.4" textLength="80.6" lengthAdjust="spacingAndGlyphs">% release</text>
<text transform="translate(374.3,369.2) rotate(-24)" font-family="Liberation Sans, sans-serif" font-size="16" font-weight="bold" text-anchor="end" fill="#111" stroke="#111" stroke-width="0.4" textLength="31.3" lengthAdjust="spacingAndGlyphs">nHZ</text>
<text transform="translate(413.2,369.3) rotate(-24)" font-family="Liberation Sans, sans-serif" font-size="16" font-weight="bold" text-anchor="end" fill="#111" stroke="#111" stroke-width="0.4" textLength="99.5" lengthAdjust="spacingAndGlyphs">HZ PLASMIN</text>
<text transform="translate(452.6,369.9) rotate(-24)" font-family="Liberation Sans, sans-serif" font-size="16" font-weight="bold" text-anchor="end" fill="#111" stroke="#111" stroke-width="0.4" textLength="106" lengthAdjust="spacingAndGlyphs">HZ ALBUMAX</text>
<text transform="translate(493,369) rotate(-24)" font-family="Liberation Sans, sans-serif" font-size="16" font-weight="bold" text-anchor="end" fill="#111" stroke="#111" stroke-width="0.4" textLength="72" lengthAdjust="spacingAndGlyphs">HZ 100°C</text>
</g>
</g>
</svg>
</body></html>
